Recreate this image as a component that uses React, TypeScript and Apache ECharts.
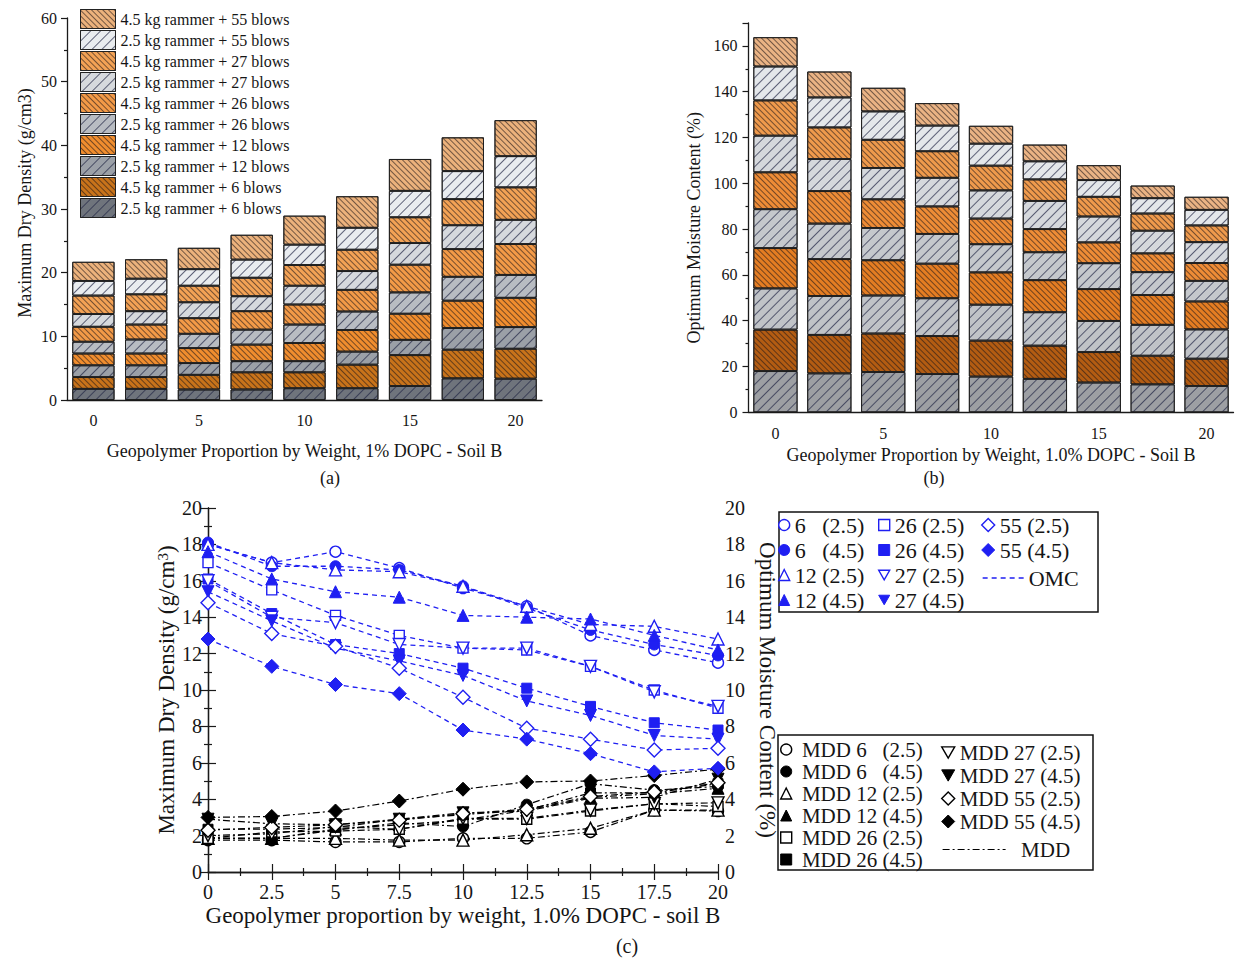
import React, { useEffect, useRef } from 'react';
import * as echarts from 'echarts';

// ---------- data ----------
const xLabels = ['0', '2.5', '5', '7.5', '10', '12.5', '15', '17.5', '20'];
const xValues = [0, 2.5, 5, 7.5, 10, 12.5, 15, 17.5, 20];

const barNames = [
  '2.5 kg rammer + 6 blows',
  '4.5 kg rammer + 6 blows',
  '2.5 kg rammer + 12 blows',
  '4.5 kg rammer + 12 blows',
  '2.5 kg rammer + 26 blows',
  '4.5 kg rammer + 26 blows',
  '2.5 kg rammer + 27 blows',
  '4.5 kg rammer + 27 blows',
  '2.5 kg rammer + 55 blows',
  '4.5 kg rammer + 55 blows',
];

const NB = '\u00a0';
const omcNames = [
  `6${NB}${NB}${NB}(2.5)`, `6${NB}${NB}${NB}(4.5)`, '12 (2.5)', '12 (4.5)', '26 (2.5)',
  '26 (4.5)', '27 (2.5)', '27 (4.5)', '55 (2.5)', '55 (4.5)',
];
const mddNames = [
  `MDD 6${NB}${NB}${NB}(2.5)`, `MDD 6${NB}${NB}${NB}(4.5)`, 'MDD 12 (2.5)', 'MDD 12 (4.5)', 'MDD 26 (2.5)',
  'MDD 26 (4.5)', 'MDD 27 (2.5)', 'MDD 27 (4.5)', 'MDD 55 (2.5)', 'MDD 55 (4.5)',
];

// Maximum dry density (g/cm3)
const mdd6_25 = [1.75, 1.75, 1.65, 1.65, 1.85, 1.85, 2.2, 3.4, 3.35];
const mdd6_45 = [1.85, 1.85, 2.3, 2.7, 2.5, 3.7, 4.85, 4.5, 4.7];
const mdd12_25 = [1.85, 1.85, 1.85, 1.75, 1.75, 2.05, 2.4, 3.4, 3.4];
const mdd12_45 = [1.85, 1.85, 2.35, 2.6, 2.85, 3.4, 4.1, 4.3, 4.6];
const mdd26_25 = [1.85, 2.2, 2.25, 2.35, 2.9, 2.9, 3.35, 3.75, 3.6];
const mdd26_45 = [2.35, 2.35, 2.45, 2.9, 3.15, 3.4, 4.35, 4.35, 4.85];
const mdd27_25 = [2.0, 2.1, 2.5, 2.35, 2.95, 2.95, 3.4, 3.75, 3.8];
const mdd27_45 = [2.9, 2.65, 2.6, 2.9, 3.25, 3.35, 4.05, 4.1, 5.1];
const mdd55_25 = [2.3, 2.45, 2.6, 2.85, 3.2, 3.45, 4.15, 4.4, 4.9];
const mdd55_45 = [3.0, 3.05, 3.35, 3.9, 4.55, 4.95, 5.0, 5.3, 5.65];

// Optimum moisture content (%)
const omc6_25 = [18.0, 17.0, 17.6, 16.7, 15.6, 14.6, 13.0, 12.2, 11.5];
const omc6_45 = [18.1, 16.8, 16.8, 16.6, 15.7, 14.5, 13.3, 12.5, 11.9];
const omc12_25 = [18.0, 17.0, 16.6, 16.5, 15.7, 14.6, 13.6, 13.5, 12.8];
const omc12_45 = [17.6, 16.1, 15.4, 15.1, 14.1, 14.0, 13.9, 13.0, 12.2];
const omc26_25 = [17.0, 15.5, 14.1, 13.0, 12.3, 12.2, 11.3, 10.0, 9.0];
const omc26_45 = [16.1, 14.2, 12.5, 12.0, 11.2, 10.1, 9.1, 8.2, 7.8];
const omc27_25 = [16.0, 14.0, 13.7, 12.5, 12.3, 12.3, 11.3, 9.9, 9.1];
const omc27_45 = [15.4, 13.8, 12.3, 11.6, 10.8, 9.4, 8.6, 7.5, 7.3];
const omc55_25 = [14.8, 13.1, 12.4, 11.2, 9.6, 7.9, 7.3, 6.7, 6.8];
const omc55_45 = [12.8, 11.3, 10.3, 9.8, 7.8, 7.3, 6.5, 5.5, 5.7];

const mddData = [mdd6_25, mdd6_45, mdd12_25, mdd12_45, mdd26_25, mdd26_45, mdd27_25, mdd27_45, mdd55_25, mdd55_45];
const omcData = [omc6_25, omc6_45, omc12_25, omc12_45, omc26_25, omc26_45, omc27_25, omc27_45, omc55_25, omc55_45];

// ---------- styles ----------
const FONT = "'Liberation Serif', 'Times New Roman', serif";
const TXT = '#151515';
const AX = '#1a1a1a';
const BLUE = '#1f1ff2';
const BLACK = '#000000';

const palA = ['#6f747c', '#c8731a', '#9ba0a7', '#f08d2e', '#b8bcc2', '#f39a47', '#d6d9dd', '#f3a255', '#e9ecef', '#ecb27c'];
const palB = ['#9d9fa3', '#b35c12', '#c0c3c7', '#e47d22', '#c5c8cc', '#ee8c36', '#d5d8dc', '#ef9a4c', '#e4e7ea', '#eab384'];

const decalOrange = {
  symbol: 'rect', symbolSize: 1, dashArrayX: [1, 0], dashArrayY: [1, 2.4],
  rotation: Math.PI / 4, color: 'rgba(35,25,25,0.6)',
};
const decalGray = {
  symbol: 'rect', symbolSize: 1, dashArrayX: [1, 0], dashArrayY: [1, 5.5],
  rotation: -Math.PI / 4, color: 'rgba(35,40,70,0.7)',
};

const DOWN = 'path://M0,0L12,0L6,10.4Z';
const markers = [
  { symbol: 'circle', size: 11, open: true },
  { symbol: 'circle', size: 11, open: false },
  { symbol: 'triangle', size: 12, open: true },
  { symbol: 'triangle', size: 12, open: false },
  { symbol: 'rect', size: 10, open: true },
  { symbol: 'rect', size: 10, open: false },
  { symbol: DOWN, size: 12, open: true },
  { symbol: DOWN, size: 12, open: false },
  { symbol: 'diamond', size: 14, open: true },
  { symbol: 'diamond', size: 14, open: false },
];

const markerStyle = (c: string, open: boolean) =>
  open ? { color: '#ffffff', borderColor: c, borderWidth: 1.4 } : { color: c, borderColor: c, borderWidth: 1 };

const OMC_DASH = [5, 4];
const MDD_DASH = [7, 3, 2, 3];

const axisLine = { show: true, lineStyle: { color: AX, width: 1.3 } };
const tickLine = { color: AX, width: 1.2 };
const smallLabel = { fontFamily: FONT, fontSize: 16, color: TXT };
const smallName = { fontFamily: FONT, fontSize: 18, color: TXT };
const bigLabel = { fontFamily: FONT, fontSize: 20, color: TXT };
const bigName = { fontFamily: FONT, fontSize: 23, color: TXT };
const hiddenSymbol = { color: 'rgba(0,0,0,0)', borderColor: 'rgba(0,0,0,0)', borderWidth: 0, opacity: 0 };

function buildOption() {
  const series: any[] = [];
  barNames.forEach((nm, i) => {
    series.push({
      type: 'bar', name: nm, stack: 'mdd', xAxisIndex: 0, yAxisIndex: 0,
      data: mddData[i], barCategoryGap: '20%',
      itemStyle: { color: palA[i], borderColor: '#1e1e1e', borderWidth: 0.9, decal: i % 2 ? decalOrange : decalGray },
    });
  });
  barNames.forEach((nm, i) => {
    series.push({
      type: 'bar', name: nm, stack: 'omc', xAxisIndex: 2, yAxisIndex: 1,
      data: omcData[i], barCategoryGap: '18%',
      itemStyle: { color: palB[i], borderColor: '#1e1e1e', borderWidth: 0.9, decal: i % 2 ? decalOrange : decalGray },
    });
  });
  omcNames.forEach((nm, i) => {
    series.push({
      type: 'line', name: nm, xAxisIndex: 4, yAxisIndex: 3,
      data: xValues.map((x, j) => [x, omcData[i][j]]),
      symbol: markers[i].symbol, symbolSize: markers[i].size,
      itemStyle: markerStyle(BLUE, markers[i].open),
      lineStyle: { color: BLUE, width: 1.3, type: OMC_DASH }, z: 4,
    });
  });
  mddNames.forEach((nm, i) => {
    series.push({
      type: 'line', name: nm, xAxisIndex: 4, yAxisIndex: 2,
      data: xValues.map((x, j) => [x, mddData[i][j]]),
      symbol: markers[i].symbol, symbolSize: markers[i].size,
      itemStyle: markerStyle(BLACK, markers[i].open),
      lineStyle: { color: BLACK, width: 1.2, type: MDD_DASH }, z: 3,
    });
  });
  // legend-only entries for the line styles
  series.push({ type: 'line', name: 'OMC', xAxisIndex: 4, yAxisIndex: 3, data: [], symbol: 'none', itemStyle: hiddenSymbol, lineStyle: { color: BLUE, width: 1.3, type: OMC_DASH } });
  series.push({ type: 'line', name: 'MDD', xAxisIndex: 4, yAxisIndex: 2, data: [], symbol: 'none', itemStyle: hiddenSymbol, lineStyle: { color: BLACK, width: 1.2, type: MDD_DASH } });

  const markerLegendItem = (names: string[], idx: number, color: string) => ({
    name: names[idx], icon: markers[idx].symbol, itemStyle: markerStyle(color, markers[idx].open),
  });
  const range = (a: number, b: number) => Array.from({ length: b - a }, (_, k) => a + k);

  const legend1Text = { fontFamily: FONT, fontSize: 22, color: TXT };
  const legend2Text = { fontFamily: FONT, fontSize: 21, color: TXT };
  const baseLegend = { orient: 'vertical', padding: 0, selectedMode: false, textStyle: legend1Text, symbolKeepAspect: true };

  return {
    animation: false,
    backgroundColor: '#ffffff',
    grid: [
      { left: 67, top: 18, width: 475, height: 382 },
      { left: 748.5, top: 23, width: 485, height: 389.3 },
      { left: 208, top: 508, width: 510, height: 364 },
    ],
    xAxis: [
      {
        gridIndex: 0, type: 'category', data: xLabels, boundaryGap: true,
        axisLine, axisTick: { alignWithLabel: true, interval: (i: number) => i % 2 === 0, length: 6, lineStyle: tickLine },
        axisLabel: { ...smallLabel, interval: 1, margin: 12 },
        name: 'Geopolymer Proportion by Weight, 1% DOPC - Soil B', nameLocation: 'middle', nameGap: 42, nameTextStyle: smallName,
      },
      {
        gridIndex: 0, type: 'category', data: xLabels, boundaryGap: true, position: 'bottom',
        axisLine: { show: false }, axisLabel: { show: false },
        axisTick: { alignWithLabel: true, interval: (i: number) => i % 2 === 1, length: 3, lineStyle: tickLine },
      },
      {
        gridIndex: 1, type: 'category', data: xLabels, boundaryGap: true,
        axisLine, axisTick: { alignWithLabel: true, interval: (i: number) => i % 2 === 0, length: 6, lineStyle: tickLine },
        axisLabel: { ...smallLabel, interval: 1, margin: 13 },
        name: 'Geopolymer Proportion by Weight, 1.0% DOPC - Soil B', nameLocation: 'middle', nameGap: 34, nameTextStyle: smallName,
      },
      {
        gridIndex: 1, type: 'category', data: xLabels, boundaryGap: true, position: 'bottom',
        axisLine: { show: false }, axisLabel: { show: false },
        axisTick: { alignWithLabel: true, interval: (i: number) => i % 2 === 1, length: 3, lineStyle: tickLine },
      },
      {
        gridIndex: 2, type: 'value', min: 0, max: 20, interval: 2.5, position: 'bottom',
        axisLine, axisTick: { inside: true, length: 8, lineStyle: tickLine },
        minorTick: { show: true, splitNumber: 2, length: 4, lineStyle: tickLine },
        splitLine: { show: false },
        axisLabel: { ...bigLabel, margin: 10 },
        name: 'Geopolymer proportion by weight, 1.0% DOPC - soil B', nameLocation: 'middle', nameGap: 32, nameTextStyle: bigName,
      },
      {
        gridIndex: 2, type: 'value', min: 0, max: 20, interval: 2.5, position: 'top',
        axisLine, axisTick: { inside: true, length: 8, lineStyle: tickLine },
        minorTick: { show: true, splitNumber: 2, length: 4, lineStyle: tickLine },
        splitLine: { show: false }, axisLabel: { show: false },
      },
    ],
    yAxis: [
      {
        gridIndex: 0, type: 'value', min: 0, max: 60, interval: 10,
        axisLine, axisTick: { show: true, length: 6, lineStyle: tickLine },
        minorTick: { show: true, splitNumber: 2, length: 3, lineStyle: tickLine },
        splitLine: { show: false }, axisLabel: { ...smallLabel, margin: 10 },
        name: 'Maximum Dry Density (g/cm3)', nameLocation: 'middle', nameGap: 33,
        nameTextStyle: { ...smallName, padding: [0, 0, 0, 12] },
      },
      {
        gridIndex: 1, type: 'value', min: 0, max: 170, interval: 20,
        axisLine, axisTick: { show: true, length: 6, lineStyle: tickLine },
        minorTick: { show: true, splitNumber: 2, length: 3, lineStyle: tickLine },
        splitLine: { show: false }, axisLabel: { ...smallLabel, margin: 11, showMaxLabel: false },
        name: 'Optimum Moisture Content (%)', nameLocation: 'middle', nameGap: 46,
        nameTextStyle: { ...smallName, padding: [0, 20, 0, 0] },
      },
      {
        gridIndex: 2, type: 'value', min: 0, max: 20, interval: 2, position: 'left',
        axisLine, axisTick: { inside: true, length: 8, lineStyle: tickLine },
        minorTick: { show: true, splitNumber: 2, length: 4, lineStyle: tickLine },
        splitLine: { show: false }, axisLabel: { ...bigLabel, margin: 6 },
        name: 'Maximum Dry Density (g/cm{sup|3})', nameLocation: 'middle', nameGap: 27,
        nameTextStyle: { ...bigName, rich: { sup: { fontFamily: FONT, fontSize: 15, color: TXT, verticalAlign: 'top' } } },
      },
      {
        gridIndex: 2, type: 'value', min: 0, max: 20, interval: 2, position: 'right',
        axisLine, axisTick: { inside: true, length: 8, lineStyle: tickLine },
        minorTick: { show: true, splitNumber: 2, length: 4, lineStyle: tickLine },
        splitLine: { show: false }, axisLabel: { ...bigLabel, margin: 7 },
        name: 'Optimum Moisture Content (%)', nameLocation: 'middle', nameGap: 38, nameRotate: -90, nameTextStyle: bigName,
      },
    ],
    legend: [
      {
        ...baseLegend, data: [...barNames].reverse().map((n) => ({ name: n })),
        left: 80, top: 9, icon: 'rect', itemWidth: 35, itemHeight: 19, itemGap: 1,
        textStyle: { fontFamily: FONT, fontSize: 16, color: TXT },
        itemStyle: { borderWidth: 1, borderColor: '#222' },
      },
      { ...baseLegend, data: range(0, 4).map((i) => markerLegendItem(omcNames, i, BLUE)), left: 778, top: 514, itemWidth: 11, itemHeight: 11, itemGap: 3 },
      { ...baseLegend, data: range(4, 8).map((i) => markerLegendItem(omcNames, i, BLUE)), left: 878, top: 514, itemWidth: 11, itemHeight: 11, itemGap: 3 },
      { ...baseLegend, data: range(8, 10).map((i) => markerLegendItem(omcNames, i, BLUE)), left: 981, top: 514, itemWidth: 13, itemHeight: 13, itemGap: 3 },
      {
        ...baseLegend, data: [{ name: 'OMC', itemStyle: hiddenSymbol, lineStyle: { color: BLUE, width: 1.3, type: OMC_DASH } }],
        left: 982, top: 567, itemWidth: 41, itemHeight: 12,
      },
      {
        ...baseLegend, textStyle: legend2Text, data: range(0, 6).map((i) => markerLegendItem(mddNames, i, BLACK)),
        left: 780, top: 739, itemWidth: 11, itemHeight: 11, itemGap: 1, formatter: (n: string) => `${NB}${n}`,
      },
      {
        ...baseLegend, textStyle: legend2Text, data: range(6, 10).map((i) => markerLegendItem(mddNames, i, BLACK)),
        left: 941, top: 742, itemWidth: 13, itemHeight: 13, itemGap: 2,
      },
      {
        ...baseLegend, textStyle: legend2Text, data: [{ name: 'MDD', itemStyle: hiddenSymbol, lineStyle: { color: BLACK, width: 1.2, type: MDD_DASH } }],
        left: 942, top: 839, itemWidth: 63, itemHeight: 12,
        formatter: (n: string) => `${NB}${NB}${n}`,
      },
    ],
    graphic: [
      { type: 'rect', shape: { x: 779, y: 512, width: 319, height: 100 }, style: { fill: 'none', stroke: '#111', lineWidth: 1.5 }, z: 0 },
      { type: 'rect', shape: { x: 778, y: 735, width: 315, height: 135 }, style: { fill: 'none', stroke: '#111', lineWidth: 1.5 }, z: 0 },
      { type: 'text', x: 330, y: 478, style: { text: '(a)', font: `18px ${FONT}`, fill: TXT, textAlign: 'center', textVerticalAlign: 'middle' } },
      { type: 'text', x: 934, y: 478, style: { text: '(b)', font: `18px ${FONT}`, fill: TXT, textAlign: 'center', textVerticalAlign: 'middle' } },
      { type: 'text', x: 627, y: 946, style: { text: '(c)', font: `20px ${FONT}`, fill: TXT, textAlign: 'center', textVerticalAlign: 'middle' } },
    ],
    series,
  };
}

export default function App() {
  const ref = useRef<HTMLDivElement>(null);
  useEffect(() => {
    if (!ref.current) return;
    const chart = echarts.init(ref.current, undefined, { renderer: 'svg' });
    chart.setOption(buildOption() as any);
    return () => chart.dispose();
  }, []);
  return <div ref={ref} style={{ position: 'fixed', left: 0, top: 0, width: 1236, height: 960, background: '#fff' }} />;
}
